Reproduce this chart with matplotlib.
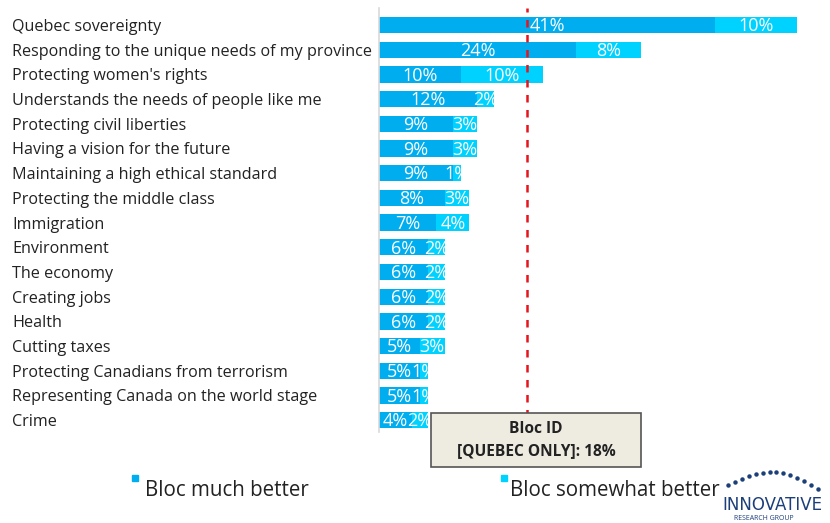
import numpy as np
import matplotlib.pyplot as plt
from matplotlib.lines import Line2D
from matplotlib.patches import Rectangle

plt.rcParams['font.family'] = ['Open Sans', 'DejaVu Sans']

categories = [
    "Quebec sovereignty",
    "Responding to the unique needs of my province",
    "Protecting women's rights",
    "Understands the needs of people like me",
    "Protecting civil liberties",
    "Having a vision for the future",
    "Maintaining a high ethical standard",
    "Protecting the middle class",
    "Immigration",
    "Environment",
    "The economy",
    "Creating jobs",
    "Health",
    "Cutting taxes",
    "Protecting Canadians from terrorism",
    "Representing Canada on the world stage",
    "Crime",
]
much_better = [41, 24, 10, 12, 9, 9, 9, 8, 7, 6, 6, 6, 6, 5, 5, 5, 4]
somewhat_better = [10, 8, 10, 2, 3, 3, 1, 3, 4, 2, 2, 2, 2, 3, 1, 1, 2]
bloc_id = 18

dark = '#00aeef'
light = '#00d2ff'

fig = plt.figure(figsize=(8.3, 5.23), dpi=100)
ax = fig.add_axes([379 / 830, 1 - 432 / 523, 451 / 830, 424 / 523])

y = np.arange(len(categories))
ax.barh(y, much_better, height=0.66, color=dark, zorder=2)
ax.barh(y, somewhat_better, left=much_better, height=0.66, color=light, zorder=2)

for i, (a, b) in enumerate(zip(much_better, somewhat_better)):
    ax.text(a / 2, i + 0.05, f"{a}%", ha='center', va='center', color='white',
            fontsize=13, zorder=4)
    ax.text(a + b / 2, i + 0.05, f"{b}%", ha='center', va='center', color='white',
            fontsize=13, zorder=4)

ax.set_xlim(0, 55)
ax.set_ylim(16.48, -0.69)
ax.axvline(bloc_id, color='#e8141b', linestyle=(0, (3, 3)), linewidth=1.8, zorder=3)

for s in ['top', 'right', 'bottom']:
    ax.spines[s].set_visible(False)
ax.spines['left'].set_color('#d9d9d9')
ax.spines['left'].set_linewidth(1.2)
ax.set_xticks([])
ax.set_yticks([])

# category names, left aligned at the figure edge
trans = ax.get_yaxis_transform()
for i, name in enumerate(categories):
    ax.text(-367 / 451, i + 0.08, name, transform=trans, ha='left', va='center',
            fontsize=11.6, color='#222222', clip_on=False)

# Bloc ID callout box
ax.add_patch(Rectangle((6.4, 15.7), 25.5, 2.2, facecolor='#eeebe0', edgecolor='#555555',
                       linewidth=1.2, zorder=5, clip_on=False))
ax.text(6.4 + 25.5 / 2, 16.8, f"Bloc ID\n[QUEBEC ONLY]: {bloc_id}%", ha='center', va='center',
        fontsize=11.2, fontweight='bold', color='#222222', linespacing=1.45, zorder=6,
        clip_on=False)

# legend
fig.add_artist(Line2D([135 / 830], [1 - 478 / 523], marker='s', markersize=5,
                      color=dark, linestyle='none'))
fig.text(145 / 830, 1 - 490 / 523, "Bloc much better", fontsize=14.8, color='#222222',
         va='center', ha='left')
fig.add_artist(Line2D([504 / 830], [1 - 478 / 523], marker='s', markersize=5,
                      color=light, linestyle='none'))
fig.text(510 / 830, 1 - 490 / 523, "Bloc somewhat better", fontsize=14.8, color='#222222',
         va='center', ha='left')

# logo
navy = '#1c3f7a'
t = np.linspace(0, 1, 14)
dx = 728 + 90 * t
dy = 485 - 18 * np.sin(np.pi * t * 0.9) + 10 * t
fig.add_artist(Line2D(dx / 830, 1 - dy / 523, marker='o', markersize=2.2, color=navy,
                      linestyle='none'))
fig.text(722 / 830, 1 - 505 / 523, "INNOVATIVE", fontsize=12, color=navy,
         va='center', ha='left', family='Liberation Sans Narrow')
fig.text(734 / 830, 1 - 519 / 523, "RESEARCH GROUP", fontsize=5, color=navy,
         va='center', ha='left')

fig.savefig('out.png', dpi=100)
